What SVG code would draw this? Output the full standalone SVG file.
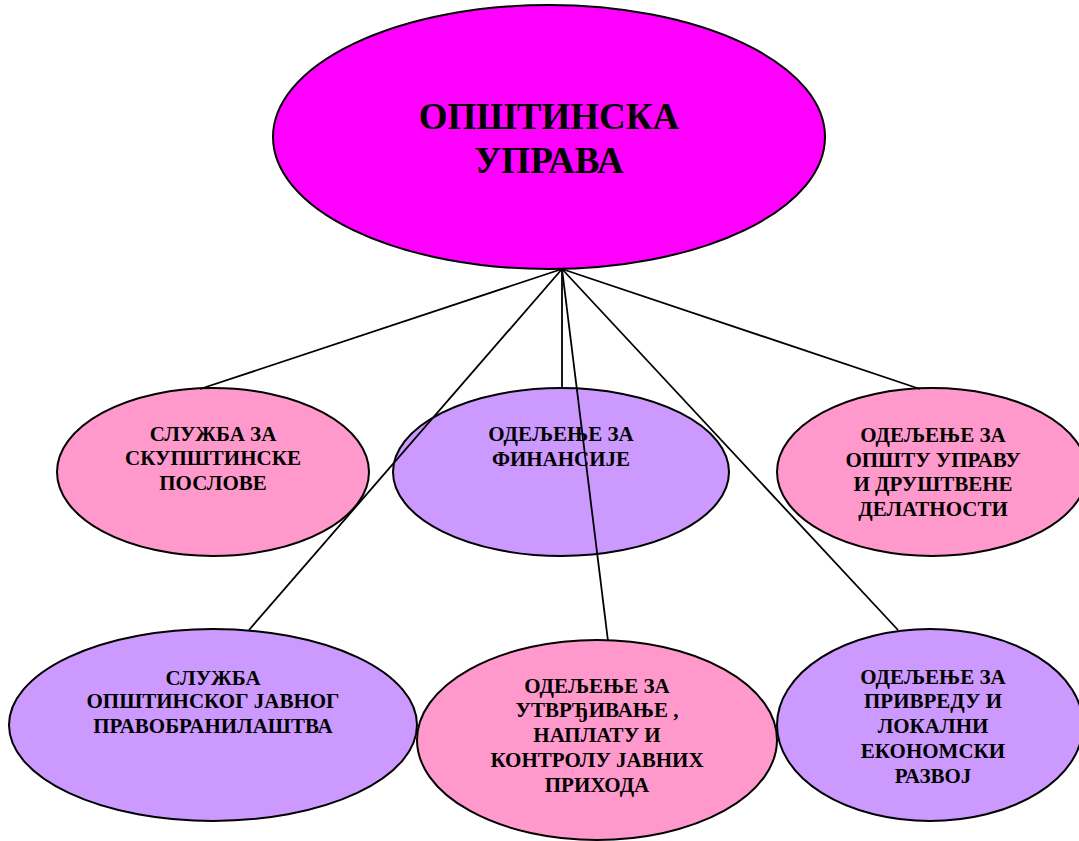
<svg xmlns="http://www.w3.org/2000/svg" width="1079" height="841" viewBox="0 0 1079 841">
<style>
.n{stroke:#000;stroke-width:2}
.mag{fill:#FF00FF}
.pink{fill:#FF99CC}
.purp{fill:#CC99FF}
text{font-family:"Liberation Serif","Times New Roman",serif;font-weight:bold;text-anchor:middle;fill:#000}
.t{font-size:37px}
.s{font-size:21px}
.c{stroke:#000;stroke-width:1.8;fill:none}
</style>
<rect width="1079" height="841" fill="#fff"/>
<g id="n-top">
<ellipse class="n mag" cx="549" cy="137" rx="276" ry="132"/>
<text class="t" x="549" y="129">ОПШТИНСКА</text>
<text class="t" x="549" y="173">УПРАВА</text>
</g>
<g id="n-skupstina">
<ellipse class="n pink" cx="213" cy="472" rx="156" ry="84"/>
<text class="s" x="213" y="441">СЛУЖБА ЗА</text>
<text class="s" x="213" y="465">СКУПШТИНСКЕ</text>
<text class="s" x="213" y="490">ПОСЛОВЕ</text>
</g>
<g id="n-finansije">
<ellipse class="n purp" cx="561" cy="472" rx="168" ry="84"/>
<text class="s" x="561" y="441">ОДЕЉЕЊЕ ЗА</text>
<text class="s" x="561" y="466">ФИНАНСИЈЕ</text>
</g>
<g id="n-opsta">
<ellipse class="n pink" cx="932" cy="472" rx="155" ry="84"/>
<text class="s" x="933" y="442">ОДЕЉЕЊЕ ЗА</text>
<text class="s" x="933" y="467">ОПШТУ УПРАВУ</text>
<text class="s" x="933" y="491">И ДРУШТВЕНЕ</text>
<text class="s" x="933" y="516">ДЕЛАТНОСТИ</text>
</g>
<g id="n-pravobranilastvo">
<ellipse class="n purp" cx="213" cy="725" rx="204" ry="96"/>
<text class="s" x="213" y="685">СЛУЖБА</text>
<text class="s" x="213" y="708">ОПШТИНСКОГ ЈАВНОГ</text>
<text class="s" x="213" y="733">ПРАВОБРАНИЛАШТВА</text>
</g>
<g id="n-prihodi">
<ellipse class="n pink" cx="597" cy="740" rx="180" ry="100"/>
<text class="s" x="597" y="693">ОДЕЉЕЊЕ ЗА</text>
<text class="s" x="597" y="717">УТВРЂИВАЊЕ ,</text>
<text class="s" x="597" y="742">НАПЛАТУ И</text>
<text class="s" x="597" y="767">КОНТРОЛУ ЈАВНИХ</text>
<text class="s" x="597" y="792">ПРИХОДА</text>
</g>
<g id="n-privreda">
<ellipse class="n purp" cx="930" cy="725" rx="153" ry="96"/>
<text class="s" x="933" y="684">ОДЕЉЕЊЕ ЗА</text>
<text class="s" x="933" y="708">ПРИВРЕДУ И</text>
<text class="s" x="933" y="733">ЛОКАЛНИ</text>
<text class="s" x="933" y="758">ЕКОНОМСКИ</text>
<text class="s" x="933" y="783">РАЗВОЈ</text>
</g>
<g id="connectors">
<line class="c" x1="562" y1="269" x2="200" y2="389"/>
<line class="c" x1="562" y1="269" x2="249" y2="630"/>
<line class="c" x1="562" y1="269" x2="562" y2="389"/>
<line class="c" x1="562" y1="269" x2="608" y2="641"/>
<line class="c" x1="562" y1="269" x2="898" y2="630"/>
<line class="c" x1="562" y1="269" x2="920" y2="389"/>
</g>
</svg>
